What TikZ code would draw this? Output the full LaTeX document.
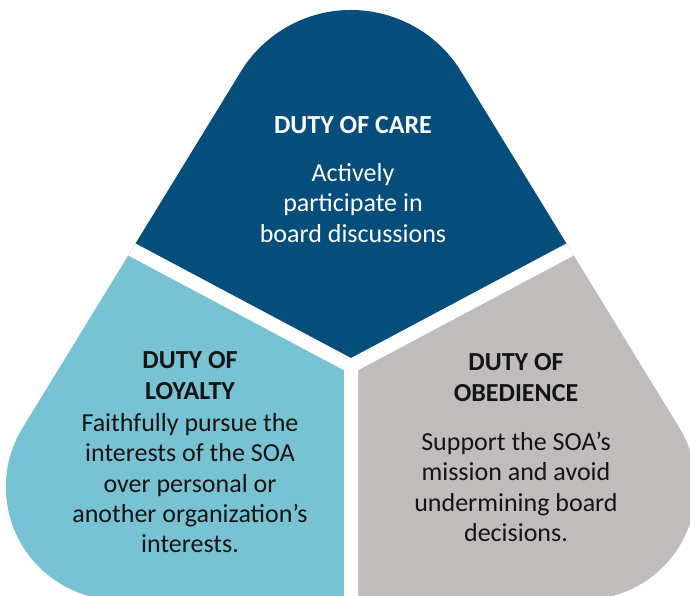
\documentclass[tikz,border=0pt]{standalone}
\usepackage{fontspec}
\setmainfont{Carlito}
\definecolor{carecol}{HTML}{054D7B}
\definecolor{loyalcol}{HTML}{78C3D3}
\definecolor{obeycol}{HTML}{BFBCBB}
\definecolor{inkcol}{HTML}{141414}
\begin{document}
\begin{tikzpicture}[x=1pt,y=1pt,
  headtxt/.style={font=\fontsize{26}{31.5}\selectfont\bfseries, align=center, anchor=base, inner sep=0pt},
  bodytxt/.style={font=\fontsize{26}{30.4}\selectfont, align=center, anchor=base, inner sep=0pt},
  gapline/.style={white, line width=14pt}]
  \useasboundingbox (0,0) rectangle (690,596);
  \coordinate (mid) at (351,230);
  \path (mid) ++(152:600) coordinate (farL);
  \path (mid) ++(28:600) coordinate (farR);
  \coordinate (farD) at (351,-100);
  \begin{scope}
    \clip (0,0) rectangle (690,596);
    \clip (240.7,524.2) -- (22.5,168) arc[start angle=148.5, end angle=270, radius=113]
      -- (583.1,-4) arc[start angle=270, end angle=391.5, radius=113]
      -- (461.3,524.2) arc[start angle=31.5, end angle=148.5, radius=129.4] -- cycle;
    \fill[carecol]  (mid) -- (farL) -- ++(0,500) -| (farR) -- cycle;
    \fill[loyalcol] (mid) -- (farL) |- (farD) -- cycle;
    \fill[obeycol]  (mid) -- (farR) |- (farD) -- cycle;
    \draw[gapline] (farL) -- (mid) -- (farR) (mid) -- (farD);
  \end{scope}
  % base = baseline of the last line
  \node[headtxt, text=white] (carehead) at (353,462.7) {DUTY OF CARE};
  \node[bodytxt, text=white] (carebody) at (353,353.7) {Actively\\participate in\\board discussions};
  \node[headtxt, text=inkcol] (loyalhead) at (190,196) {DUTY OF\\LOYALTY};
  \node[bodytxt, text=inkcol] (loyalbody) at (190,43)
    {Faithfully pursue the\\interests of the SOA\\over personal or\\another organization’s\\interests.};
  \node[headtxt, text=inkcol] (obeyhead) at (516,194.3) {DUTY OF\\OBEDIENCE};
  \node[bodytxt, text=inkcol] (obeybody) at (516,54.3)
    {Support the SOA’s\\mission and avoid\\undermining board\\decisions.};
\end{tikzpicture}
\end{document}
